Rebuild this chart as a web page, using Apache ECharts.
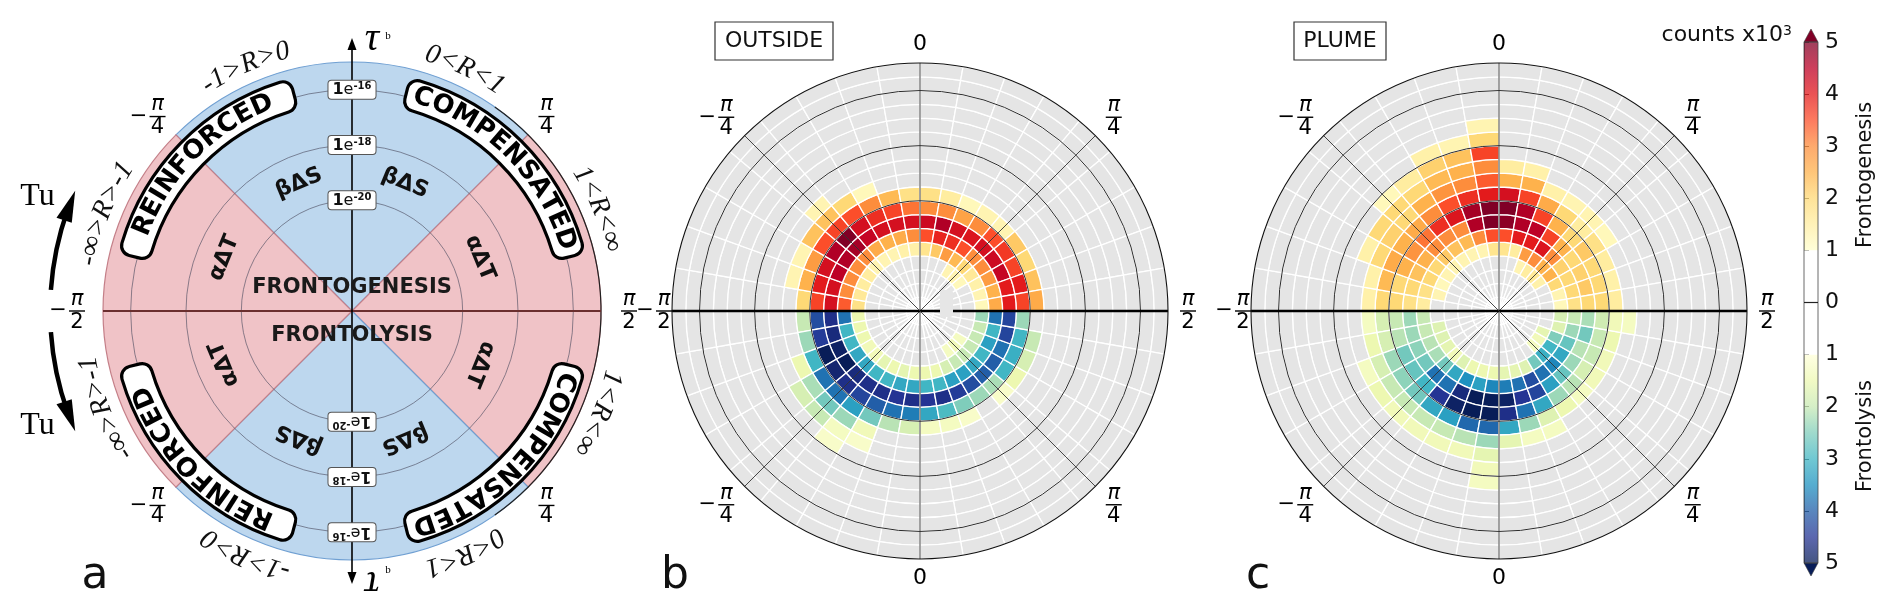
<!DOCTYPE html>
<html>
<head>
<meta charset="utf-8">
<title>Frontogenesis / frontolysis polar histograms</title>
<script src="https://cdn.jsdelivr.net/npm/echarts@6.0.0/dist/echarts.min.js"></script>
<style>
html,body{margin:0;padding:0;background:#fff;}
#chart{width:1892px;height:612px;}
</style>
</head>
<body>
<div id="chart"></div>
<script>
// ================= DATA =================
// radial bins: log10 of tau^b, half-decade bins
const radialEdges = [-24,-23.5,-23,-22.5,-22,-21.5,-21,-20.5,-20,-19.5,-19,-18.5,-18,-17.5,-17,-16.5,-16,-15.5,-15];
// angular bins of each half (degrees), 10 degree bins
const halfAngleEdges = [-90,-80,-70,-60,-50,-40,-30,-20,-10,0,10,20,30,40,50,60,70,80,90];
const radialTicks = [-20,-18,-16];
const spokeAngles = [0,45,90,135,180,225,270,315];
const angleTickValues = [0,45,90,135,180,225,270,315];
const angleTickLabels = ['0','π/4','π/2','π/4','0','−π/4','−π/2','−π/4'];
const firstRing = 3; // first listed ring is [-22.5,-22]

// counts x10^3, rows = rings from [-22.5,-22] outward, columns = angle bins -90..90
const outsideGenesis = [
  [0,0,0,0,0,0,0,0,0,0,0,0,1.3,1.3,1.2,0,0,0],
  [1.8,1.6,1.5,1.5,1.3,1.3,1.3,1.4,1.4,1.7,2.2,2.8,2.4,2.0,1.6,1.4,1.3,1.2],
  [3.4,3.0,3.0,3.0,3.0,2.6,2.5,2.6,3.0,3.5,3.9,3.8,3.5,3.0,3.0,2.8,2.5,2.6],
  [4.2,4.2,4.5,4.6,4.7,4.4,4.2,4.2,4.2,4.3,4.6,4.2,4.1,4.2,4.3,4.4,4.0,4.0],
  [3.6,4.0,4.2,4.6,5.0,4.2,3.8,3.6,3.2,3.0,3.0,2.7,3.0,3.5,3.7,3.6,4.0,3.6],
  [2.0,2.5,2.8,3.5,3.6,3.5,3.0,2.4,1.8,1.8,1.5,1.2,1.3,1.3,2.2,2.0,2.3,2.6],
  [0,1.3,1.3,2.3,2.3,2.0,1.2,0,0,0,0,0,0,0,0,0,0,0],
  [0,0,0,0,1.3,0,0,0,0,0,0,0,0,0,0,0,0,0]
];
const outsideLysis = [
  [0,0,0,0,0,0,0,0,0,0,0,0,1.3,1.4,1.3,0,0,0],
  [1.5,1.5,1.5,1.4,1.4,1.6,1.5,1.6,1.5,1.5,1.5,1.8,2.0,2.0,2.0,2.0,2.0,2.3],
  [3.8,3.0,3.0,3.2,3.2,3.0,3.0,3.2,3.2,3.0,3.0,3.3,3.3,3.2,3.0,3.3,3.0,3.8],
  [4.6,4.7,4.9,5.0,4.7,4.6,4.6,4.5,4.6,4.5,4.6,4.4,4.2,4.0,4.0,3.8,4.3,4.3],
  [4.2,4.4,5.0,4.8,4.6,4.3,4.0,3.8,3.7,3.2,2.9,2.5,2.3,2.2,3.0,3.1,3.0,2.3],
  [2.0,2.3,3.0,3.8,3.8,3.3,2.6,2.1,1.8,1.3,1.3,1.2,0,1.2,1.5,1.8,2.0,0],
  [0,0,1.5,2.2,2.6,2.3,1.4,0,0,0,0,0,0,0,0,0,0,0],
  [0,0,0,1.8,2.0,1.3,1.2,0,0,0,0,0,0,0,0,0,0,0],
  [0,0,0,0,0,1.2,0,0,0,0,0,0,0,0,0,0,0,0]
];
const plumeGenesis = [
  [0,0,0,0,0,0,0,0,0,0,0,1.3,1.5,1.6,1.4,0,0,0],
  [0,1.3,1.2,1.3,1.3,1.3,1.3,1.3,1.7,1.7,1.5,2.8,3.0,2.5,2.5,2.0,1.3,1.2],
  [1.5,1.8,2.0,2.0,2.2,2.3,2.4,3.0,3.5,3.5,4.0,4.0,4.1,3.0,2.1,2.0,2.0,1.8],
  [1.8,2.0,2.3,2.5,3.0,3.0,3.0,4.6,5.0,4.9,4.6,4.5,3.6,2.5,2.0,2.1,2.2,2.0],
  [2.0,2.0,2.5,2.9,3.2,3.8,4.1,4.7,5.0,5.0,4.6,3.6,2.5,2.0,2.2,2.0,2.0,2.0],
  [2.0,2.4,2.6,2.5,2.6,3.0,3.5,3.8,4.0,4.2,3.6,2.6,2.0,1.5,1.8,1.5,1.4,1.5],
  [1.4,1.4,2.0,2.1,2.0,2.5,2.9,3.0,3.4,2.5,2.5,1.4,1.3,1.3,1.2,0,0,0],
  [0,0,1.4,2.0,2.0,2.0,2.4,2.5,3.0,1.5,1.4,0,0,0,0,0,0,0],
  [0,0,0,0,1.2,1.5,2.1,2.3,3.6,0,0,0,0,0,0,0,0,0],
  [0,0,0,0,0,0,1.4,1.3,2.0,0,0,0,0,0,0,0,0,0],
  [0,0,0,0,0,0,0,0,1.3,0,0,0,0,0,0,0,0,0]
];
const plumeLysis = [
  [0,0,0,0,0,0,0,0,0,0,0,0,0,1.3,1.4,1.6,0,0],
  [0,1.7,1.7,1.6,1.4,1.7,1.5,1.5,1.5,1.6,1.6,1.7,2.6,3.1,3.0,2.5,1.7,1.8],
  [2.0,2.0,2.1,2.2,2.6,3.2,3.5,3.3,3.6,3.7,3.8,4.2,3.8,3.6,3.2,2.7,2.3,2.0],
  [2.3,2.3,2.4,2.6,3.8,3.8,4.7,5.0,5.0,4.9,4.5,4.3,3.3,2.7,2.3,2.1,2.6,2.2],
  [2.0,2.1,2.6,2.7,3.0,4.5,4.9,5.0,5.0,4.6,3.8,3.2,2.3,2.1,1.8,2.0,2.0,1.9],
  [1.8,1.8,2.3,2.4,2.6,3.2,3.3,3.9,3.9,3.2,2.3,1.7,1.5,1.3,1.4,1.4,1.5,1.4],
  [1.3,1.5,1.8,2.0,2.0,2.0,2.0,2.1,2.3,1.6,1.3,1.3,0,0,0,0,0,1.3],
  [0,0,1.3,1.5,1.4,1.4,1.4,1.4,1.6,0,0,0,0,0,0,0,0,0],
  [0,0,0,0,0,0,0,0,1.4,0,0,0,0,0,0,0,0,0],
  [0,0,0,0,0,0,0,0,1.3,0,0,0,0,0,0,0,0,0]
];
const colorbarSegments = [[1,5,0],[-5,-1,1],[-1,1,2]]; // [from, to, kind]
const colorbarEnds = [5,-5];

// schematic panel (a): angles clockwise from the upper tau axis (upper half); lower half is the reflection
const diagramSectorEdges = [-45,45,135,225,315];
const diagramWords = ['βΔS','βΔS','αΔT','αΔT'];
const diagramWordAngles = [-22.5,22.5,-67.5,67.5];
const diagramWordRadius = -19;
const regimeNames = ['REINFORCED','COMPENSATED'];
const regimeAngles = [[-76,-15],[14,76]];
const regimeRadii = [-16.45,-15.33];
const ratioLabels = ['-1>R>0','0<R<1','1<R<∞','-∞>R>-1'];
const ratioAngles = [-23.5,25,67.5,-68.5];
const ratioRadius = -14.31;
const tuArrowAngles = [-86,-72.5,-66.5]; // tail, head base, head tip
const tuRadius = -13.09;
const tuLabelAngles = [-70,-110];
const tuLabelRadius = -11.9;
const tauLabelRadius = -14.3;
const tauAxisEnd = -14.13;
const processLabels = ['FRONTOGENESIS','FRONTOLYSIS'];
const processRadii = [-23.17,-23.1];
const processAngles = [0,180];

// ================= HELPERS =================
const YLORRD = ['#ffffcc','#ffeda0','#fed976','#feb24c','#fd8d3c','#fc4e2a','#e31a1c','#bd0026','#800026'];
const YLGNBU = ['#ffffd9','#edf8b1','#c7e9b4','#7fcdbb','#41b6c4','#1d91c0','#225ea8','#253494','#081d58'];
const V_MIN = 1, V_MAX = 5, R_MIN = radialEdges[0], R_MAX = radialEdges[radialEdges.length-1];
function hexRgb(h){const n=parseInt(h.slice(1),16);return [(n>>16)&255,(n>>8)&255,n&255];}
function cmap(list,v,alpha){
  let t=(v-V_MIN)/(V_MAX-V_MIN); t=Math.max(0,Math.min(1,t));
  const s=t*(list.length-1); const i=Math.min(Math.floor(s),list.length-2); const f=s-i;
  const a=hexRgb(list[i]), b=hexRgb(list[i+1]);
  const c=a.map((x,k)=>Math.round(x+(b[k]-x)*f));
  return alpha==null?'rgb('+c.join(',')+')':'rgba('+c.join(',')+','+alpha+')';
}
const mctx=document.createElement('canvas').getContext('2d');
function textWidth(s,font){mctx.font=font;return mctx.measureText(s).width;}

function rp(api,params,rv,av){
  const p=api.coord([rv,av]); const cs=params.coordSys;
  let r=p[2], ang=p[3];
  if(r===undefined||ang===undefined){r=Math.hypot(p[0]-cs.cx,p[1]-cs.cy);ang=(90-av)*Math.PI/180;}
  return {x:p[0],y:p[1],r:r,ang:ang};
}
function sectorShape(params,api,r0,r1,a0,a1){
  const p0=rp(api,params,r0,a0), p1=rp(api,params,r1,a1), cs=params.coordSys;
  return {cx:cs.cx,cy:cs.cy,r0:p0.r,r:p1.r,startAngle:-p0.ang,endAngle:-p1.ang,clockwise:true};
}
const fullAngleEdges = halfAngleEdges.map(t=>t+90).concat(halfAngleEdges.slice(1).map(t=>t+270));
function buildBackground(){
  const out=[];
  for(let i=0;i<radialEdges.length-1;i++)
    for(let j=0;j<fullAngleEdges.length-1;j++)
      out.push([radialEdges[i],radialEdges[i+1],fullAngleEdges[j],fullAngleEdges[j+1]]);
  return out;
}
function buildCells(rings,half){
  const out=[];
  rings.forEach((row,k)=>{
    const i=firstRing+k;
    row.forEach((v,j)=>{
      if(v<V_MIN) return;
      const t0=halfAngleEdges[j], t1=halfAngleEdges[j+1];
      let a0,a1;
      if(half===0){a0=t0<0?360+t0:t0;a1=t1<=0?360+t1:t1;}
      else {a0=180-t1;a1=180-t0;}
      out.push([radialEdges[i],radialEdges[i+1],a0,a1,v,half]);
    });
  });
  return out;
}
function curvedText(api,params,str,rv,centerAngle,font,fill,spacing){
  const rPx=rp(api,params,rv,0).r;
  const chars=Array.from(str);
  const ws=chars.map(ch=>textWidth(ch,font));
  const total=ws.reduce((s,w)=>s+w,0)+spacing*(chars.length-1);
  let acc=-total/2;
  return chars.map((ch,k)=>{
    const mid=acc+ws[k]/2; acc+=ws[k]+spacing;
    const a=centerAngle+mid/rPx*180/Math.PI;
    const p=rp(api,params,rv,a);
    return {type:'text',x:p.x,y:p.y,rotation:-a*Math.PI/180,
      style:{text:ch,font:font,fill:fill,align:'center',verticalAlign:'middle'}};
  });
}
function fractionLabel(txt,x,y){
  const neg=txt.charAt(0)==='−'; const body=neg?txt.slice(1):txt; const parts=body.split('/');
  const els=[];
  if(parts.length===1){
    els.push({type:'text',x:x,y:y,style:{text:body,font:'22px "DejaVu Sans"',fill:'#000',align:'center',verticalAlign:'middle'}});
    return els;
  }
  els.push({type:'text',x:x,y:y-1,style:{text:parts[0],font:'italic 21px "DejaVu Sans"',fill:'#000',align:'center',verticalAlign:'bottom'}});
  els.push({type:'line',shape:{x1:x-8,y1:y,x2:x+8,y2:y},style:{stroke:'#000',lineWidth:1.4}});
  els.push({type:'text',x:x,y:y+1,style:{text:parts[1],font:'21px "DejaVu Sans"',fill:'#000',align:'center',verticalAlign:'top'}});
  if(neg) els.push({type:'text',x:x-19,y:y,style:{text:'−',font:'21px "DejaVu Sans"',fill:'#000',align:'center',verticalAlign:'middle'}});
  return els;
}

// ================= SERIES =================
const series=[];
const bgData=buildBackground();
[1,2].forEach(pi=>{
  series.push({type:'custom',coordinateSystem:'polar',polarIndex:pi,silent:true,z:1,data:bgData,
    renderItem:(params,api)=>({type:'sector',shape:sectorShape(params,api,api.value(0),api.value(1),api.value(2),api.value(3)),
      style:{fill:'#e5e5e5',stroke:'#ffffff',lineWidth:1.3}})});
});
const cellsB=buildCells(outsideGenesis,0).concat(buildCells(outsideLysis,1));
const cellsC=buildCells(plumeGenesis,0).concat(buildCells(plumeLysis,1));
[[1,cellsB],[2,cellsC]].forEach(([pi,cells])=>{
  series.push({type:'custom',coordinateSystem:'polar',polarIndex:pi,silent:true,z:2,data:cells,
    renderItem:(params,api)=>{
      const v=api.value(4), half=api.value(5);
      return {type:'sector',shape:sectorShape(params,api,api.value(0),api.value(1),api.value(2),api.value(3)),
        style:{fill:cmap(half===0?YLORRD:YLGNBU,v),stroke:'#ffffff',lineWidth:1.3}};
    }});
});
[1,2].forEach(pi=>{
  series.push({type:'custom',coordinateSystem:'polar',polarIndex:pi,silent:true,z:3,data:radialTicks.map(v=>[v,0]),
    renderItem:(params,api)=>{const cs=params.coordSys;const p=rp(api,params,api.value(0),0);
      return {type:'circle',shape:{cx:cs.cx,cy:cs.cy,r:p.r},style:{fill:'none',stroke:'#2a2a2a',lineWidth:1}};}});
  series.push({type:'custom',coordinateSystem:'polar',polarIndex:pi,silent:true,z:3,data:spokeAngles.map(a=>[R_MAX,a]),
    renderItem:(params,api)=>{const cs=params.coordSys;const a=api.value(1);const p=rp(api,params,api.value(0),a);
      const h=(a%180===90);
      return {type:'line',shape:{x1:cs.cx,y1:cs.cy,x2:p.x,y2:p.y},style:{stroke:h?'#000':'#333',lineWidth:h?2.6:0.9}};}});
  series.push({type:'custom',coordinateSystem:'polar',polarIndex:pi,silent:true,z:3,data:[[R_MAX,0]],
    renderItem:(params,api)=>{const cs=params.coordSys;const p=rp(api,params,api.value(0),0);
      return {type:'circle',shape:{cx:cs.cx,cy:cs.cy,r:p.r},style:{fill:'none',stroke:'#111',lineWidth:1.1}};}});
});
const labelPads=[{vert:19,right:28,left:26,diag:26},{vert:19,right:20,left:8,diag:26},{vert:19,right:20,left:8,diag:26}];
[0,1,2].forEach(pi=>{
  const idx=angleTickValues.map((v,k)=>k).filter(k=>pi!==0||angleTickValues[k]%180!==0);
  series.push({type:'custom',coordinateSystem:'polar',polarIndex:pi,silent:true,z:4,data:idx.map(k=>[R_MAX,angleTickValues[k],k]),
    renderItem:(params,api)=>{
      const a=api.value(1), k=api.value(2), cs=params.coordSys, e=rp(api,params,R_MAX,a);
      const ux=(e.x-cs.cx)/e.r, uy=(e.y-cs.cy)/e.r, pads=labelPads[pi];
      let pad; if(a%180===0) pad=pads.vert; else if(a%90===0) pad=(a===90)?pads.right:pads.left; else pad=pads.diag;
      return {type:'group',children:fractionLabel(angleTickLabels[k],cs.cx+ux*(e.r+pad),cs.cy+uy*(e.r+pad))};
    }});
});

// schematic (a): one half; the lower half uses reflected angles, text keeps running clockwise
function diagramHalf(api,params,lower){
  const cs=params.coordSys, cx=cs.cx, cy=cs.cy, P=(r,a)=>rp(api,params,r,a), out=[];
  const f=a=>lower?180-a:a;
  const span=(a0,a1)=>lower?[180-a1,180-a0]:[a0,a1];
  // tau axis arrow head
  const t=P(tauAxisEnd,f(0)), d=lower?-1:1;
  out.push({type:'polygon',shape:{points:[[t.x,t.y],[t.x-4.5,t.y+12*d],[t.x+4.5,t.y+12*d]]},style:{fill:'#000'}});
  // tau^b label
  const tp=P(tauLabelRadius,f(0));
  out.push({type:'text',x:tp.x+20,y:tp.y+(lower?3:-3),rotation:lower?Math.PI:0,
    style:{text:'τ',font:'italic 40px "Liberation Serif"',fill:'#000',align:'center',verticalAlign:'middle'}});
  out.push({type:'text',x:tp.x+36,y:tp.y+(lower?-9:-7),
    style:{text:'b',font:'11px "Liberation Serif"',fill:'#000',align:'center',verticalAlign:'middle'}});
  // radial tick boxes
  radialTicks.forEach(v=>{const p=P(v,f(0));
    out.push({type:'text',x:p.x,y:p.y,rotation:lower?Math.PI:0,z2:5,style:{text:'{o|1}{e|e}{s|'+v+'}',align:'center',verticalAlign:'middle',
      backgroundColor:'#fff',borderColor:'#555',borderWidth:1,borderRadius:3,padding:[1,4,0,4],
      rich:{o:{font:'bold 16px "DejaVu Sans"',fill:'#111',lineHeight:17},e:{font:'16px "DejaVu Sans"',fill:'#111',lineHeight:17},
        s:{font:'bold 10px "DejaVu Sans"',fill:'#111',verticalAlign:'top',lineHeight:17}}}});});
  // buoyancy terms
  diagramWords.forEach((w,k)=>{const a=f(diagramWordAngles[k]);const p=P(diagramWordRadius,a);
    out.push({type:'text',x:p.x,y:p.y,rotation:-a*Math.PI/180,style:{text:w,font:'bold 22px "DejaVu Sans"',fill:'#111',align:'center',verticalAlign:'middle'}});});
  // regime pills
  regimeNames.forEach((name,k)=>{const s=span(regimeAngles[k][0],regimeAngles[k][1]);
    const sh=sectorShape(params,api,regimeRadii[0],regimeRadii[1],s[0],s[1]); sh.cornerRadius=10;
    out.push({type:'sector',shape:sh,style:{fill:'#fff',stroke:'#000',lineWidth:3.2}});
    curvedText(api,params,name,(regimeRadii[0]+regimeRadii[1])/2,(s[0]+s[1])/2,'bold 26px "DejaVu Sans"','#000',0.6).forEach(e=>out.push(e));});
  // density ratio ranges
  ratioLabels.forEach((s,k)=>curvedText(api,params,s,ratioRadius,f(ratioAngles[k]),'italic 28px "Liberation Serif"','#111',0.3).forEach(e=>out.push(e)));
  // Tu arrow
  const tail=P(tuRadius,f(tuArrowAngles[0])), neck=P(tuRadius,f(tuArrowAngles[1]+2)), base=P(tuRadius,f(tuArrowAngles[1])), tip=P(tuRadius,f(tuArrowAngles[2]));
  const A0=lower?neck:tail, A1=lower?tail:neck;
  out.push({type:'arc',shape:{cx:cx,cy:cy,r:tail.r,startAngle:-A0.ang,endAngle:-A1.ang,clockwise:true},style:{stroke:'#000',lineWidth:4.5,fill:'none'}});
  const ux=(base.x-cx)/base.r, uy=(base.y-cy)/base.r;
  out.push({type:'polygon',shape:{points:[[tip.x,tip.y],[base.x+ux*8,base.y+uy*8],[base.x-ux*8,base.y-uy*8]]},style:{fill:'#000'}});
  return out;
}
series.push({type:'custom',coordinateSystem:'polar',polarIndex:0,silent:true,z:5,data:[[R_MIN,0]],
  renderItem:(params,api)=>{
    const cs=params.coordSys, cx=cs.cx, cy=cs.cy, P=(r,a)=>rp(api,params,r,a), els=[];
    for(let k=0;k<diagramSectorEdges.length-1;k++){const blue=k%2===0;
      els.push({type:'sector',shape:sectorShape(params,api,R_MIN,R_MAX,diagramSectorEdges[k],diagramSectorEdges[k+1]),
        style:{fill:blue?'#bdd7ee':'#f0c3c7',stroke:blue?'#6f9fd2':'#c47f88',lineWidth:1.2}});}
    radialTicks.forEach(v=>els.push({type:'circle',shape:{cx:cx,cy:cy,r:P(v,0).r},style:{fill:'none',stroke:'#4d4d60',lineWidth:0.9,opacity:0.7}}));
    const e0=P(R_MAX,35), e1=P(R_MAX,145);
    els.push({type:'arc',shape:{cx:cx,cy:cy,r:e0.r,startAngle:-e0.ang,endAngle:-e1.ang,clockwise:true},style:{stroke:'#222',lineWidth:1.2,fill:'none'}});
    const hl=P(R_MAX,270), hr=P(R_MAX,90);
    els.push({type:'line',shape:{x1:hl.x,y1:hl.y,x2:hr.x,y2:hr.y},style:{stroke:'#6b2f2f',lineWidth:2.2}});
    const vt=P(tauAxisEnd,0), vb=P(tauAxisEnd,180);
    els.push({type:'line',shape:{x1:vt.x,y1:vt.y+6,x2:vb.x,y2:vb.y-6},style:{stroke:'#000',lineWidth:1.6}});
    processLabels.forEach((s,k)=>{const p=P(processRadii[k],processAngles[k]);
      els.push({type:'text',x:p.x,y:p.y,style:{text:s,font:'bold 21px "DejaVu Sans"',fill:'#1a1a1a',align:'center',verticalAlign:'middle'}});});
    els.push({type:'group',children:diagramHalf(api,params,false)});
    els.push({type:'group',children:diagramHalf(api,params,true)});
    tuLabelAngles.forEach(a=>{const p=P(tuLabelRadius,a);
      els.push({type:'text',x:p.x,y:p.y,style:{text:'Tu',font:'32px "Liberation Serif"',fill:'#000',align:'center',verticalAlign:'middle'}});});
    return {type:'group',children:els};
  }});

// colorbar
series.push({type:'custom',coordinateSystem:'cartesian2d',silent:true,z:2,data:colorbarSegments,
  renderItem:(params,api)=>{
    const y0=api.value(0), y1=api.value(1), kind=api.value(2);
    const pa=api.coord([0,y1]), pb=api.coord([1,y0]);
    let fill;
    if(kind===2) fill='#ffffff';
    else {
      const list=kind===0?YLORRD:YLGNBU;
      const stops=list.map((c,i)=>({offset:i/(list.length-1),color:cmap(list,V_MIN+(V_MAX-V_MIN)*i/(list.length-1),0.75)}));
      fill=kind===0?{type:'linear',x:0,y:1,x2:0,y2:0,colorStops:stops}:{type:'linear',x:0,y:0,x2:0,y2:1,colorStops:stops};
    }
    return {type:'rect',shape:{x:pa[0],y:pa[1],width:pb[0]-pa[0],height:pb[1]-pa[1]},style:{fill:fill}};
  }});
series.push({type:'custom',coordinateSystem:'cartesian2d',silent:true,z:3,data:colorbarEnds.map(v=>[v]),
  renderItem:(params,api)=>{
    const v=api.value(0), l=api.coord([0,v]), r=api.coord([1,v]), dir=v>0?-1:1;
    return {type:'polygon',shape:{points:[[l[0],l[1]],[r[0],r[1]],[(l[0]+r[0])/2,l[1]+dir*13]]},
      style:{fill:v>0?'#800026':'#081d58',stroke:'#444',lineWidth:0.6}};
  }});
series.push({type:'custom',coordinateSystem:'cartesian2d',silent:true,z:4,data:[[0]],
  renderItem:(params,api)=>{
    const t0=api.coord([0,5]), t1=api.coord([1,-5]), z0=api.coord([0,0]), z1=api.coord([1,0]);
    return {type:'group',children:[
      {type:'rect',shape:{x:t0[0],y:t0[1],width:t1[0]-t0[0],height:t1[1]-t0[1]},style:{fill:'none',stroke:'#444',lineWidth:0.8}},
      {type:'line',shape:{x1:z0[0],y1:z0[1],x2:z1[0],y2:z1[1]},style:{stroke:'#222',lineWidth:1.2}}
    ]};
  }});

// ================= CHART =================
const chart=echarts.init(document.getElementById('chart'),null,{width:1892,height:612});
function angleAx(i){return {polarIndex:i,type:'value',min:0,max:360,startAngle:90,clockwise:true,interval:45,
  axisLine:{show:false},axisTick:{show:false},axisLabel:{show:false},splitLine:{show:false},splitArea:{show:false}};}
function radiusAx(i){return {polarIndex:i,type:'value',min:R_MIN,max:R_MAX,
  axisLine:{show:false},axisTick:{show:false},axisLabel:{show:false},splitLine:{show:false},splitArea:{show:false}};}
const option={
  animation:false,
  backgroundColor:'#ffffff',
  polar:[{center:[352,311],radius:249},{center:[920,311],radius:248},{center:[1499,311],radius:248}],
  angleAxis:[angleAx(0),angleAx(1),angleAx(2)],
  radiusAxis:[radiusAx(0),radiusAx(1),radiusAx(2)],
  grid:{left:1804,top:42,width:14,height:521},
  xAxis:{type:'value',min:0,max:1,show:false},
  yAxis:{type:'value',min:-5,max:5,interval:1,position:'right',
    axisLine:{show:true,lineStyle:{color:'#333',width:0.8}},
    axisTick:{show:true,length:5,lineStyle:{color:'#333',width:1}},
    axisLabel:{margin:7,fontSize:22,color:'#111',fontFamily:'DejaVu Sans',formatter:v=>String(Math.abs(v))},
    splitLine:{show:false}},
  graphic:[
    {type:'rect',shape:{x:940,y:290,width:13,height:27,r:3},style:{fill:'#e6e6e6'},z:100},
    {type:'rect',shape:{x:715,y:22,width:118,height:38},style:{fill:'#fff',stroke:'#333',lineWidth:1.2},z:100},
    {type:'text',x:774,y:41,style:{text:'OUTSIDE',font:'22px "DejaVu Sans"',fill:'#111',align:'center',verticalAlign:'middle'},z:101},
    {type:'rect',shape:{x:1294,y:22,width:92,height:38},style:{fill:'#fff',stroke:'#333',lineWidth:1.2},z:100},
    {type:'text',x:1340,y:41,style:{text:'PLUME',font:'22px "DejaVu Sans"',fill:'#111',align:'center',verticalAlign:'middle'},z:101},
    {type:'text',x:95,y:577,style:{text:'a',font:'44px "DejaVu Sans"',fill:'#111',align:'center',verticalAlign:'middle'},z:101},
    {type:'text',x:675,y:577,style:{text:'b',font:'44px "DejaVu Sans"',fill:'#111',align:'center',verticalAlign:'middle'},z:101},
    {type:'text',x:1258,y:577,style:{text:'c',font:'44px "DejaVu Sans"',fill:'#111',align:'center',verticalAlign:'middle'},z:101},
    {type:'text',x:1792,y:35,style:{text:'{a|counts x10}{b|3}',align:'right',verticalAlign:'middle',
      rich:{a:{font:'22px "DejaVu Sans"',fill:'#111'},b:{font:'14px "DejaVu Sans"',fill:'#111',verticalAlign:'top'}}},z:101},
    {type:'text',x:1866,y:175,rotation:Math.PI/2,style:{text:'Frontogenesis',font:'21px "DejaVu Sans"',fill:'#111',align:'center',verticalAlign:'middle'},z:101},
    {type:'text',x:1866,y:436,rotation:Math.PI/2,style:{text:'Frontolysis',font:'21px "DejaVu Sans"',fill:'#111',align:'center',verticalAlign:'middle'},z:101}
  ],
  series:series
};
chart.setOption(option);
</script>
</body>
</html>
